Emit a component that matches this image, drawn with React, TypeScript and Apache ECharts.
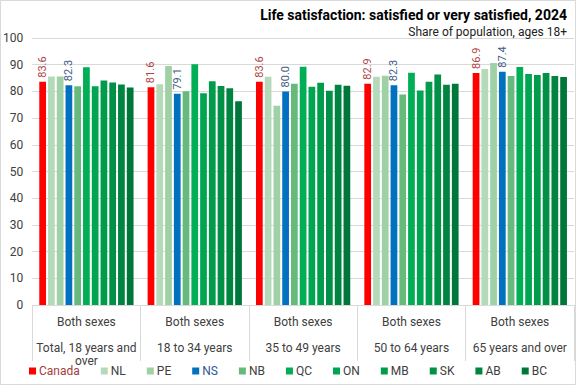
import React, { useEffect, useRef } from "react";
import * as echarts from "echarts";

const categories = [
  "Both sexes\n\nTotal, 18 years and\nover",
  "Both sexes\n\n18 to 34 years",
  "Both sexes\n\n35 to 49 years",
  "Both sexes\n\n50 to 64 years",
  "Both sexes\n\n65 years and over",
];

const regions = ["Canada", "NL", "PE", "NS", "NB", "QC", "ON", "MB", "SK", "AB", "BC"];

const canada = [83.6, 81.6, 83.6, 82.9, 86.9];
const nl = [85.6, 82.7, 85.5, 85.5, 88.4];
const pe = [85.6, 89.5, 74.6, 85.9, 90.6];
const ns = [82.3, 79.1, 80.0, 82.3, 87.4];
const nb = [81.9, 80.1, 82.9, 78.8, 85.8];
const qc = [89.0, 90.2, 89.2, 87.0, 89.1];
const on = [81.9, 79.3, 81.7, 80.3, 86.5];
const mb = [84.1, 83.8, 83.2, 83.6, 86.1];
const sk = [83.3, 82.0, 80.2, 86.3, 86.9];
const ab = [82.6, 81.2, 82.5, 82.5, 85.8];
const bc = [81.5, 76.3, 82.1, 82.9, 85.4];

const seriesValues = [canada, nl, pe, ns, nb, qc, on, mb, sk, ab, bc];

const colors = [
  "#FF0000", "#B5DAB9", "#A0D0A6", "#0070C0", "#66BA7C", "#00AE55",
  "#00A551", "#009C4B", "#009046", "#008541", "#00773A",
];

const labelled: Record<string, string> = { Canada: "#B04444", NS: "#3E5A86" };
const legendText: Record<string, string> = { Canada: "#A63C3C", NS: "#2F5597" };

const yTicks = [0, 10, 20, 30, 40, 50, 60, 70, 80, 90, 100];

export default function App() {
  const ref = useRef<HTMLDivElement>(null);
  useEffect(() => {
    if (!ref.current) return;
    const chart = echarts.init(ref.current, undefined, { renderer: "svg" });
    const font = "Roboto";
    chart.setOption({
      animation: false,
      textStyle: { fontFamily: font },
      title: [
        {
          text: "Life satisfaction: satisfied or very satisfied, 2024",
          right: 4,
          top: 3,
          textStyle: { fontSize: 14, fontWeight: "bold", color: "#000", fontFamily: font },
        },
        {
          text: "Share of population, ages 18+",
          right: 4,
          top: 21,
          textStyle: { fontSize: 12, fontWeight: "normal", color: "#222", fontFamily: font },
        },
      ],
      graphic: [
        {
          type: "rect",
          shape: { x: 0.5, y: 0.5, width: 575, height: 384 },
          style: { fill: "none", stroke: "#D9D9D9", lineWidth: 1 },
          silent: true,
        },
      ],
      legend: {
        left: "center",
        bottom: 3,
        itemWidth: 7,
        itemHeight: 7,
        itemGap: 21,
        icon: "rect",
        textStyle: { fontSize: 12, color: "#404040", fontFamily: font, padding: [0, 0, 0, -2] },
        data: regions.map((r) => ({
          name: r,
          textStyle: { color: legendText[r] || "#404040" },
        })),
      },
      grid: { left: 31, right: 2, top: 38, bottom: 80 },
      xAxis: {
        type: "category",
        data: categories,
        axisLine: { show: true, lineStyle: { color: "#D9D9D9" } },
        axisTick: { show: true, length: 56, lineStyle: { color: "#D9D9D9" } },
        axisLabel: {
          interval: 0,
          fontSize: 12,
          color: "#404040",
          lineHeight: 13,
          margin: 10,
          fontFamily: font,
        },
      },
      yAxis: {
        type: "value",
        min: 0,
        max: 100,
        interval: 10,
        axisLine: { show: false },
        axisTick: { show: false },
        splitLine: { lineStyle: { color: "#D9D9D9" } },
        axisLabel: {
          fontSize: 12,
          color: "#404040",
          margin: 9,
          fontFamily: font,
          formatter: (v: number) => (yTicks.includes(v) ? String(v) : ""),
        },
      },
      series: regions.map((r, i) => ({
        name: r,
        type: "bar",
        data: seriesValues[i],
        barGap: "30%",
        barCategoryGap: "13%",
        itemStyle: { color: colors[i] },
        label: labelled[r]
          ? {
              show: true,
              position: "top",
              rotate: 90,
              align: "left",
              verticalAlign: "middle",
              distance: 4,
              fontSize: 11,
              color: labelled[r],
              fontFamily: font,
              formatter: (p: any) => p.value.toFixed(1),
            }
          : { show: false },
      })),
    });
    return () => chart.dispose();
  }, []);
  return (
    <div
      ref={ref}
      style={{ position: "fixed", left: 0, top: 0, width: 576, height: 385, background: "#fff" }}
    />
  );
}
